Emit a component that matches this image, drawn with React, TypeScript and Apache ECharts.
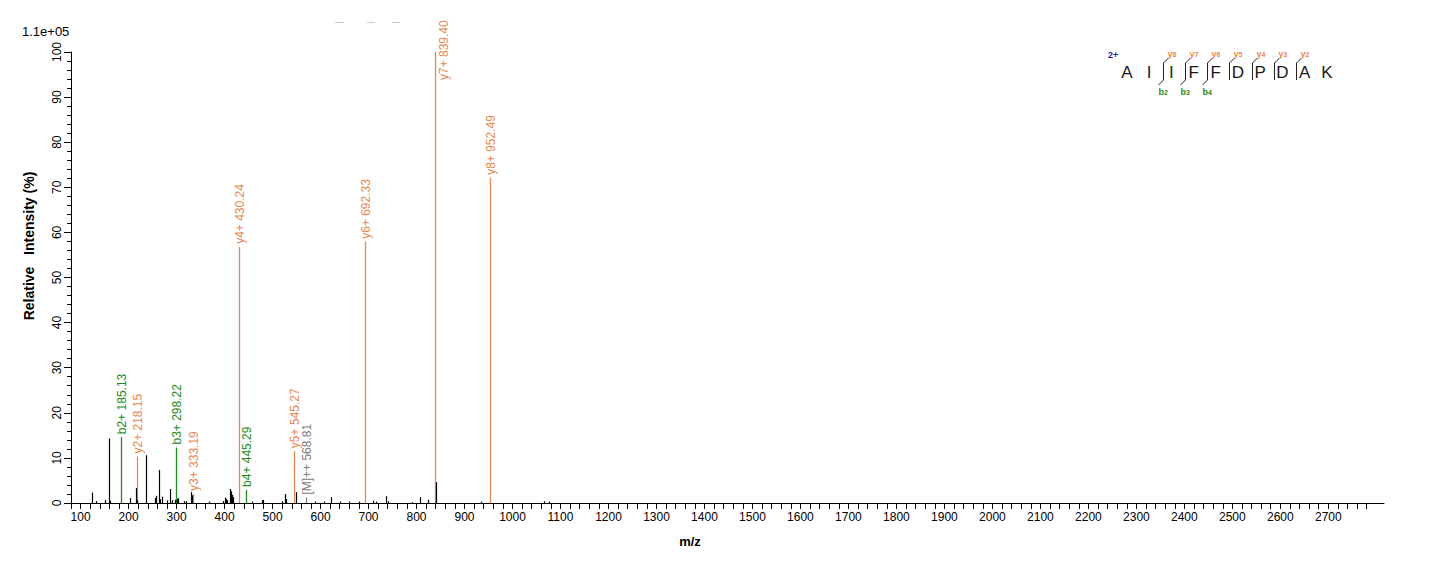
import React, { useEffect, useRef } from "react";
import * as echarts from "echarts";

// ---- Data ----
const ionLabels = ["b2+ 185.13", "y2+ 218.15", "b3+ 298.22", "y3+ 333.19", "y4+ 430.24", "b4+ 445.29", "y5+ 545.27", "[M]++ 568.81", "y6+ 692.33", "y7+ 839.40", "y8+ 952.49"];
const ionMz = [185.13, 218.15, 298.22, 333.19, 430.24, 445.29, 545.27, 568.81, 692.33, 839.4, 952.49];
const ionIntensity = [14.6, 10.3, 12.3, 2.0, 56.8, 2.9, 11.5, 1.2, 57.9, 100, 72.1];
const ionType = ["b", "y", "b", "y", "y", "b", "y", "M", "y", "y", "y"];

const peakMz = [124, 132, 151, 159, 162, 203, 214.5, 217, 236, 256, 258, 263, 266, 269, 280, 286, 291, 296, 300, 303, 315, 319, 329.6, 332, 368, 396, 400, 403, 406, 411, 413, 415, 418, 458, 477, 480, 520, 525, 529, 549, 588, 608, 622, 640, 660, 680, 709, 716, 737, 740, 790, 808, 823.6, 841, 935, 1066, 1076];
const peakIntensity = [2.3, 0.4, 0.7, 14.3, 0.5, 1.1, 3.3, 0.6, 10.6, 1.1, 1.6, 7.3, 0.8, 1.4, 0.6, 3.1, 0.6, 0.7, 0.9, 1.1, 0.4, 0.4, 2.4, 1.7, 0.3, 0.4, 1.2, 0.9, 0.6, 3.1, 2.6, 1.8, 1.3, 0.3, 0.6, 0.7, 0.4, 2.0, 0.9, 2.4, 0.3, 0.3, 1.3, 0.3, 0.3, 0.3, 0.5, 0.3, 1.5, 0.4, 0.2, 1.3, 0.7, 4.6, 0.3, 0.4, 0.3];

const xTickLabels = [100, 200, 300, 400, 500, 600, 700, 800, 900, 1000, 1100, 1200, 1300, 1400, 1500, 1600, 1700, 1800, 1900, 2000, 2100, 2200, 2300, 2400, 2500, 2600, 2700];
const xMinorTicks: number[] = [];
for (let v = 80; v <= 2780; v += 20) xMinorTicks.push(v);

const peptide = ["A", "I", "I", "F", "F", "D", "P", "D", "A", "K"];
const yIonBreaks = [2, 3, 4, 5, 6, 7, 8];
const yIonNames = ["8", "7", "6", "5", "4", "3", "2"];
const bIonBreaks = [2, 3, 4];
const bIonNames = ["2", "3", "4"];

const FONT = 'Arial, "Liberation Sans", sans-serif';
const ORANGE = "#E8884F";
const GREEN = "#1E8C1E";
const GREY = "#808080";
const typeColor: Record<string, string> = { b: GREEN, y: ORANGE, M: GREY };

export default function App() {
  const ref = useRef<HTMLDivElement>(null);
  useEffect(() => {
    document.body.style.margin = "0";
    const chart = echarts.init(ref.current!, null, { renderer: "svg" });

    const letterX = (i: number) => 1127 + i * 22.2;
    const breakX = (n: number) => letterX(n - 1) + 13.5;
    const pepGraphics: any[] = [];
    pepGraphics.push({ type: "text", x: 1108, y: 55, style: { text: "2+", fill: "#1a1aa0", font: `bold 9px ${FONT}`, align: "left", verticalAlign: "middle", textAlign: "left", textVerticalAlign: "middle" } });
    peptide.forEach((L, i) => {
      pepGraphics.push({ type: "text", x: letterX(i), y: 72, style: { text: L, fill: "#1a1a1a", font: `17px ${FONT}`, align: "center", verticalAlign: "middle", textAlign: "center", textVerticalAlign: "middle" } });
    });
    yIonBreaks.forEach((n, k) => {
      const x = Math.round(breakX(n)) + 0.5;
      pepGraphics.push({ type: "line", shape: { x1: x, y1: 80, x2: x, y2: 63 }, style: { stroke: "#222", lineWidth: 1 } });
      pepGraphics.push({ type: "line", shape: { x1: x, y1: 63, x2: x + 5, y2: 58 }, style: { stroke: "#222", lineWidth: 1 } });
      pepGraphics.push({ type: "text", x: x + 4, y: 54, style: { text: "{a|y}{b|" + yIonNames[k] + "}", rich: { a: { fill: ORANGE, font: `bold 9px ${FONT}` }, b: { fill: ORANGE, font: `bold 7px ${FONT}` } }, align: "left", verticalAlign: "middle", textAlign: "left", textVerticalAlign: "middle" } });
    });
    bIonBreaks.forEach((n, k) => {
      const x = Math.round(breakX(n)) + 0.5;
      pepGraphics.push({ type: "line", shape: { x1: x, y1: 80, x2: x - 5, y2: 85 }, style: { stroke: "#222", lineWidth: 1 } });
      pepGraphics.push({ type: "text", x: x - 5, y: 92, style: { text: "{a|b}{b|" + bIonNames[k] + "}", rich: { a: { fill: GREEN, font: `bold 9px ${FONT}` }, b: { fill: GREEN, font: `bold 7px ${FONT}` } }, align: "left", verticalAlign: "middle", textAlign: "left", textVerticalAlign: "middle" } });
    });

    const option: any = {
      animation: false,
      grid: { left: 71, right: 52, top: 52, bottom: 59 },
      xAxis: {
        type: "value",
        min: 80,
        max: 2816,
        axisLine: { show: true, lineStyle: { color: "#000", width: 1 } },
        axisTick: { show: true, length: 6, lineStyle: { color: "#000" }, customValues: xMinorTicks },
        axisLabel: { color: "#000", fontSize: 12, fontFamily: FONT, margin: 8, customValues: xTickLabels, hideOverlap: false, formatter: (v: number) => String(v) },
        splitLine: { show: false },
      },
      yAxis: {
        type: "value",
        min: 0,
        max: 100,
        interval: 10,
        axisLine: { show: true, lineStyle: { color: "#000", width: 1 } },
        axisTick: { show: true, length: 7, lineStyle: { color: "#000" } },
        minorTick: { show: true, splitNumber: 5, length: 4, lineStyle: { color: "#000" } },
        axisLabel: { color: "#000", fontSize: 12, fontFamily: FONT, rotate: 90, margin: 8 },
        splitLine: { show: false },
      },
      graphic: [
        { type: "text", x: 22, y: 31, style: { text: "1.1e+05", fill: "#000", font: `13px ${FONT}`, align: "left", verticalAlign: "middle", textAlign: "left", textVerticalAlign: "middle" } },
        { type: "text", x: 29, y: 246, rotation: Math.PI / 2, style: { text: "Relative   Intensity (%)", fill: "#000", font: `bold 14px ${FONT}`, align: "center", verticalAlign: "middle", textAlign: "center", textVerticalAlign: "middle" } },
        { type: "text", x: 690, y: 541, style: { text: "m/z", fill: "#000", font: `bold 13px ${FONT}`, align: "center", verticalAlign: "middle", textAlign: "center", textVerticalAlign: "middle" } },
        { type: "line", shape: { x1: 335, y1: 22.5, x2: 344, y2: 22.5 }, style: { stroke: "#c8c8c8", lineWidth: 1 } },
        { type: "line", shape: { x1: 367, y1: 22.5, x2: 375, y2: 22.5 }, style: { stroke: "#c8c8c8", lineWidth: 1 } },
        { type: "line", shape: { x1: 392, y1: 22.5, x2: 400, y2: 22.5 }, style: { stroke: "#c8c8c8", lineWidth: 1 } },
        ...pepGraphics,
      ],
      series: [
        {
          type: "custom",
          name: "ions",
          clip: false,
          data: ionMz.map((m, i) => [m, ionIntensity[i]]),
          encode: { x: 0, y: 1 },
          renderItem: (params: any, api: any) => {
            const i = params.dataIndex;
            const top = api.coord([api.value(0), api.value(1)]);
            const base = api.coord([api.value(0), 0]);
            const x = Math.round(top[0]) + 0.5;
            const color = typeColor[ionType[i]];
            const text = ionLabels[i];
            const estLen = text.length * 6.2;
            let ly = top[1] - 3;
            let lx = x;
            if (ly - estLen < 18) {
              ly = 18 + estLen;
              lx = x + 8;
            }
            return {
              type: "group",
              children: [
                { type: "line", shape: { x1: x, y1: top[1], x2: x, y2: base[1] }, style: { stroke: color, lineWidth: 1.3 } },
                { type: "text", x: lx, y: ly, rotation: Math.PI / 2, style: { text, fill: color, font: `12px ${FONT}`, align: "left", verticalAlign: "middle", textAlign: "left", textVerticalAlign: "middle" } },
              ],
            };
          },
        },
        {
          type: "custom",
          name: "peaks",
          clip: false,
          data: peakMz.map((m, i) => [m, peakIntensity[i]]),
          encode: { x: 0, y: 1 },
          renderItem: (params: any, api: any) => {
            const top = api.coord([api.value(0), api.value(1)]);
            const base = api.coord([api.value(0), 0]);
            const x = Math.round(top[0]) + 0.5;
            return { type: "line", shape: { x1: x, y1: top[1], x2: x, y2: base[1] }, style: { stroke: "#000", lineWidth: 1.2 } };
          },
        },
      ],
    };
    chart.setOption(option);
    return () => chart.dispose();
  }, []);
  return <div ref={ref} style={{ width: 1436, height: 562 }} />;
}
